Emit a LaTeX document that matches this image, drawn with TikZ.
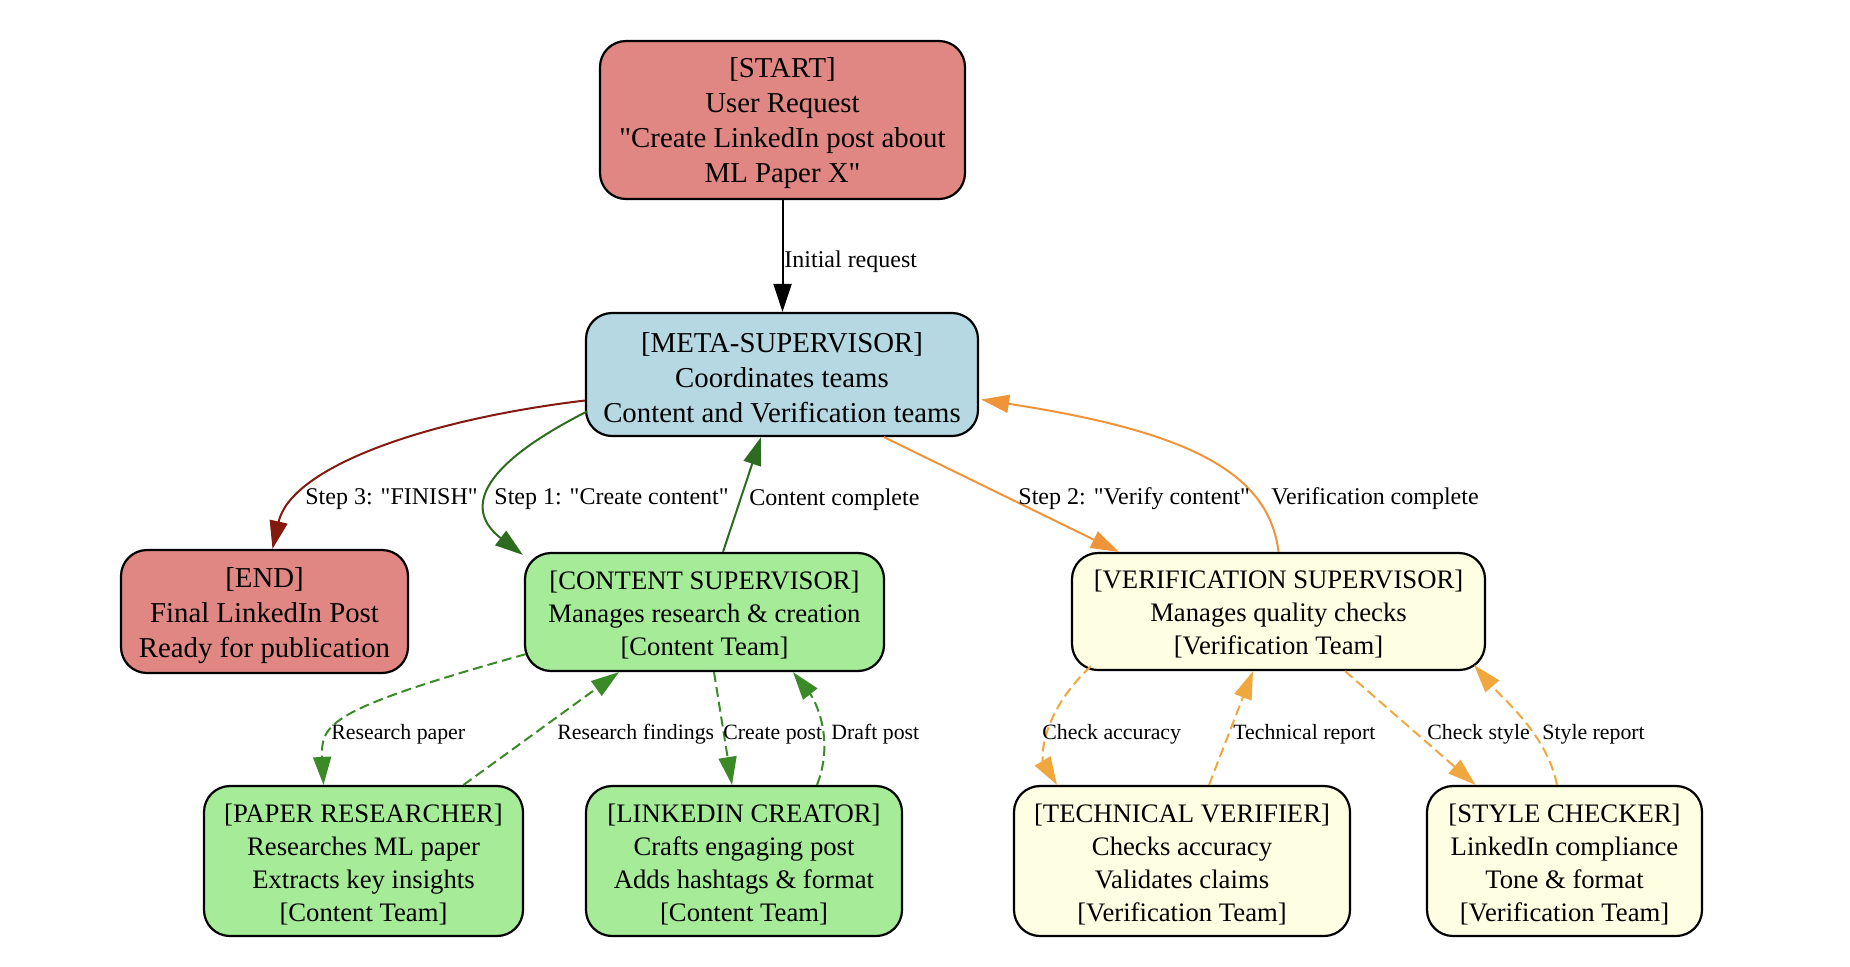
\documentclass[tikz,border=0pt]{standalone}
\usepackage{fontspec}
\setmainfont{Liberation Serif}
\usetikzlibrary{arrows.meta,calc}
\definecolor{redfill}{HTML}{E08783}
\definecolor{bluefill}{HTML}{B5D8E3}
\definecolor{greenfill}{HTML}{A6EB98}
\definecolor{yellowfill}{HTML}{FEFEE2}
\definecolor{redline}{HTML}{821A10}
\definecolor{gsolid}{HTML}{2D6B1E}
\definecolor{gdash}{HTML}{3A8A28}
\definecolor{osolid}{HTML}{F0943A}
\definecolor{odash}{HTML}{F0A83E}
\newcommand{\dq}{\textquotedbl}
\begin{document}
\begin{tikzpicture}[x=0.5pt,y=-0.5pt,
  box/.style={draw=black, line width=1.1pt, rounded corners=13pt, inner sep=0pt},
  bigtxt/.style={align=center, inner sep=0pt, font=\fontsize{14.4}{17.4}\selectfont},
  smalltxt/.style={align=center, inner sep=0pt, font=\fontsize{13.35}{16.5}\selectfont},
  lbl/.style={anchor=west, inner sep=0pt, font=\fontsize{12}{14}\selectfont},
  slbl/.style={anchor=west, inner sep=0pt, font=\fontsize{10.9}{13}\selectfont},
  edge/.style={line width=1pt, -{Triangle[length=14pt,width=9pt]}},
  dashedge/.style={edge, dash pattern=on 5pt off 2.5pt}]
\useasboundingbox (0,0) rectangle (1850,966);

% boxes
\node[box, fill=redfill, minimum width=182.5pt, minimum height=79pt] (start) at (782.5,120) {};
\node[box, fill=bluefill, minimum width=196pt, minimum height=61.5pt] (meta) at (782,374.5) {};
\node[box, fill=redfill, minimum width=143.5pt, minimum height=61.5pt] (fin) at (264.5,611.5) {};
\node[box, fill=greenfill, minimum width=179.5pt, minimum height=59pt] (content) at (704.5,612) {};
\node[box, fill=yellowfill, minimum width=206.5pt, minimum height=58.5pt] (verif) at (1278.5,611.5) {};
\node[box, fill=greenfill, minimum width=159.5pt, minimum height=75pt] (paper) at (363.5,861) {};
\node[box, fill=greenfill, minimum width=158pt, minimum height=75pt] (linkedin) at (744,861) {};
\node[box, fill=yellowfill, minimum width=168pt, minimum height=75pt] (tech) at (1182,861) {};
\node[box, fill=yellowfill, minimum width=137.5pt, minimum height=75pt] (stylec) at (1564.5,861) {};

% box texts
\node[bigtxt] (startT) at ($(start.center)+(0,3)$)
  {{[START]}\\User Request\\\dq Create LinkedIn post about\\ML Paper X\dq};
\node[bigtxt] (metaT) at ($(meta.center)+(0,3)$)
  {{[META-SUPERVISOR]}\\Coordinates teams\\Content and Verification teams};
\node[bigtxt] (finT) at ($(fin.center)+(0,4)$)
  {{[END]}\\Final LinkedIn Post\\Ready for publication};
\node[smalltxt] (contentT) at ($(content.center)+(0,3)$)
  {{[CONTENT SUPERVISOR]}\\Manages research \& creation\\{[Content Team]}};
\node[smalltxt] (verifT) at ($(verif.center)+(0,3)$)
  {{[VERIFICATION SUPERVISOR]}\\Manages quality checks\\{[Verification Team]}};
\node[smalltxt] (paperT) at ($(paper.center)+(0,3.5)$)
  {{[PAPER RESEARCHER]}\\Researches ML paper\\Extracts key insights\\{[Content Team]}};
\node[smalltxt] (linkedinT) at ($(linkedin.center)+(0,3.5)$)
  {{[LINKEDIN CREATOR]}\\Crafts engaging post\\Adds hashtags \& format\\{[Content Team]}};
\node[smalltxt] (techT) at ($(tech.center)+(0,3.5)$)
  {{[TECHNICAL VERIFIER]}\\Checks accuracy\\Validates claims\\{[Verification Team]}};
\node[smalltxt] (stylecT) at ($(stylec.center)+(0,3.5)$)
  {{[STYLE CHECKER]}\\LinkedIn compliance\\Tone \& format\\{[Verification Team]}};

% connectors
\draw[edge, black] (start.south) -- (start.south |- meta.north);
\draw[edge, redline] ($(meta.west)+(0,26)$) .. controls +(-166,20) and +(18,-80) .. ($(fin.north)+(8,0)$);
\draw[edge, gsolid] ($(meta.west)+(2,37)$) .. controls +(-126,64) and +(-50,-38) .. ($(content.north west)+(-1,3)$);
\draw[edge, gsolid] ($(content.north)+(18.5,0)$) -- ($(meta.south)+(-21,0)$);
\draw[edge, osolid] ($(meta.south)+(102,0)$) -- ($(verif.north west)+(48,0)$);
\draw[edge, osolid] (verif.north) .. controls +(-10,-83) and +(200,31) .. ($(meta.east)+(2,25)$);
\draw[dashedge, gdash] ($(content.south west)+(2,-18)$) .. controls +(-197,55) and +(-3,-61) .. ($(paper.north)+(-40,0)$);
\draw[dashedge, gdash] ($(paper.north)+(100,0)$) -- ($(content.south)+(-85.5,0)$);
\draw[dashedge, gdash] ($(content.south)+(9.5,0)$) -- ($(linkedin.north)+(-12,0)$);
\draw[dashedge, gdash] ($(linkedin.north)+(73,0)$) .. controls +(18,-46) and +(22,28) .. ($(content.south)+(88.5,0)$);
\draw[dashedge, odash] ($(verif.south west)+(20,-5)$) .. controls +(-52,49) and +(-15,-25) .. ($(tech.north)+(-125,0)$);
\draw[dashedge, odash] ($(tech.north)+(27,0)$) -- ($(verif.south)+(-25.5,0)$);
\draw[dashedge, odash] ($(verif.south)+(66.5,0)$) -- ($(stylec.north)+(-89,0)$);
\draw[dashedge, odash] ($(stylec.north)+(-7.5,0)$) .. controls +(-10,-50) and +(30,35) .. ($(verif.south east)+(-12,-6)$);

% labels
\node[lbl] (l1) at (784,261.5) {Initial request};
\node[lbl] (l2) at (305,499.5) {Step 3: \dq FINISH\dq};
\node[lbl] (l3) at (494,499.5) {Step 1: \dq Create content\dq};
\node[lbl] (l4) at (749,499.5) {Content complete};
\node[lbl] (l5) at (1018,498.5) {Step 2: \dq Verify content\dq};
\node[lbl] (l6) at (1271,498.5) {Verification complete};
\node[slbl] (l7) at (331,734.5) {Research paper};
\node[slbl] (l8) at (557,734.5) {Research findings};
\node[slbl] (l9) at (723,734.5) {Create post};
\node[slbl] (l10) at (831,734.5) {Draft post};
\node[slbl] (l11) at (1042,734.5) {Check accuracy};
\node[slbl] (l12) at (1233,734.5) {Technical report};
\node[slbl] (l13) at (1427,734.5) {Check style};
\node[slbl] (l14) at (1542,734.5) {Style report};
\end{tikzpicture}
\end{document}
